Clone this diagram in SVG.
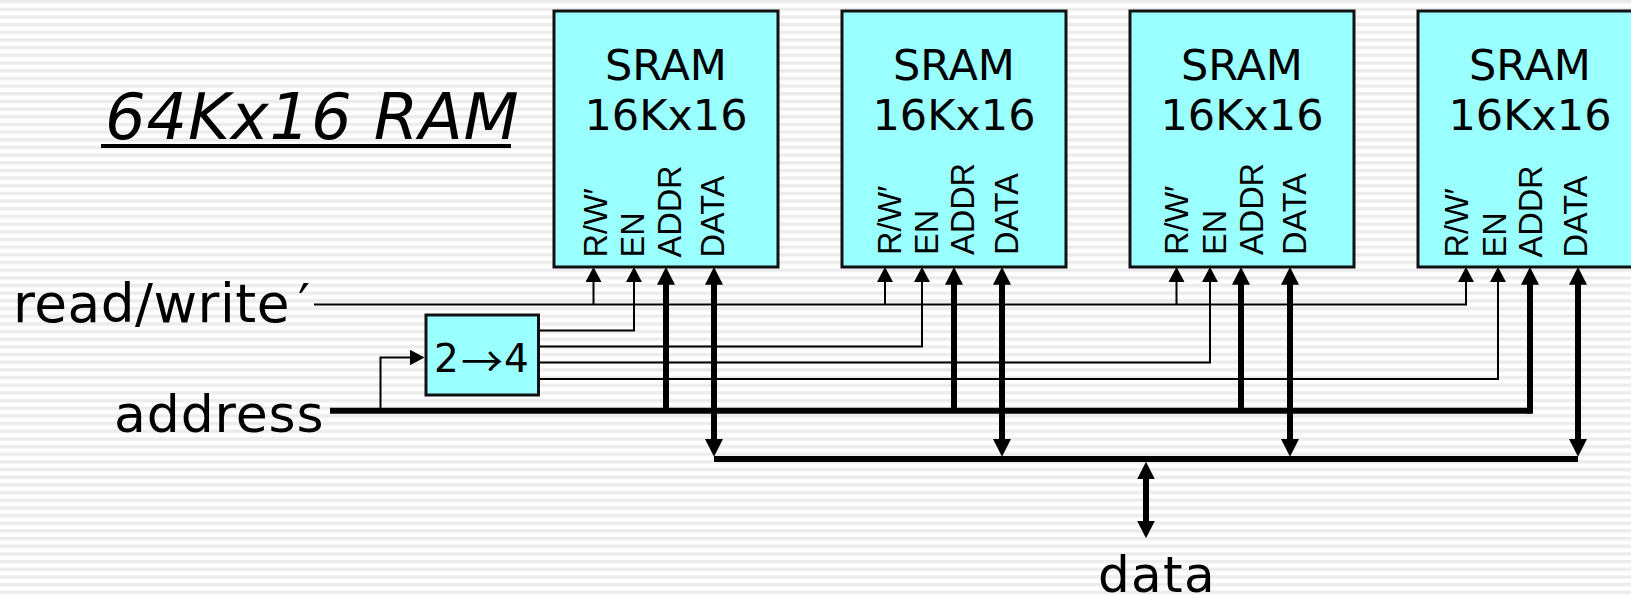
<svg xmlns="http://www.w3.org/2000/svg" width="1631" height="595" viewBox="0 0 1631 595">
<style>
text{font-family:"DejaVu Sans","Liberation Sans",sans-serif;fill:#000}
.n{fill:#99ffff;stroke:#111;stroke-width:3}
.t{font-size:43px;text-anchor:middle}
text.p{font-family:"Liberation Sans",sans-serif;font-size:32.500px}
.l{fill:none;stroke:#000;stroke-width:2}
.b{fill:none;stroke:#000;stroke-width:6}
</style>
<defs>
<pattern id="bg" width="8" height="7.670" patternUnits="userSpaceOnUse"><rect width="8" height="7.670" fill="#fff"/><rect y="0" width="8" height="3.400" fill="#ececec"/></pattern>
<marker id="a" markerUnits="userSpaceOnUse" markerWidth="16" markerHeight="16" refX="0.500" refY="8" orient="auto-start-reverse"><path d="M0 0L15 8L0 16z"/></marker>
<marker id="A" markerUnits="userSpaceOnUse" markerWidth="18" markerHeight="18" refX="1" refY="9" orient="auto-start-reverse"><path d="M0 0L17.700 9L0 18z"/></marker>
</defs>
<rect width="1631" height="595" fill="url(#bg)"/>
<g id="title"><text x="105" y="138.500" font-size="64" font-style="italic" letter-spacing="0.800">64Kx16 RAM</text><rect x="101" y="144" width="410" height="4"/></g>
<g id="connectors">
<path class="l" d="M314 304.500H1466V281.500" marker-end="url(#a)"/>
<path class="l" d="M593.500 304.500V281.500" marker-end="url(#a)"/>
<path class="l" d="M885 304.500V281.500" marker-end="url(#a)"/>
<path class="l" d="M1176.500 304.500V281.500" marker-end="url(#a)"/>
<path class="l" d="M539 330.500H634V281.500" marker-end="url(#a)"/>
<path class="l" d="M539 346.500H922V281.500" marker-end="url(#a)"/>
<path class="l" d="M539 362.500H1210V281.500" marker-end="url(#a)"/>
<path class="l" d="M539 379H1498V281.500" marker-end="url(#a)"/>
<path class="l" d="M380.500 409V357.500H410" marker-end="url(#a)"/>
<path class="b" d="M330 410.700H1530"/>
<path class="b" d="M1530 413.700V283.700" marker-end="url(#A)"/>
<path class="b" d="M666 410.700V283.700" marker-end="url(#A)"/>
<path class="b" d="M954 410.700V283.700" marker-end="url(#A)"/>
<path class="b" d="M1241 410.700V283.700" marker-end="url(#A)"/>
<path class="b" d="M714 459H1578"/>
<path class="b" d="M714 440V283.700" marker-start="url(#A)" marker-end="url(#A)"/>
<path class="b" d="M1002 440V283.700" marker-start="url(#A)" marker-end="url(#A)"/>
<path class="b" d="M1290 440V283.700" marker-start="url(#A)" marker-end="url(#A)"/>
<path class="b" d="M1578 440V283.700" marker-start="url(#A)" marker-end="url(#A)"/>
<path class="b" d="M1146 478.400V521.600" marker-start="url(#A)" marker-end="url(#A)"/>
</g>
<g id="sram1"><rect class="n" x="554" y="11" width="224" height="256"/><text class="t" x="666" y="79.500">SRAM</text><text class="t" x="666" y="130">16Kx16</text><text class="p" transform="translate(606.700,257.500) rotate(-90)">R/W′</text><text class="p" transform="translate(644,257.500) rotate(-90)">EN</text><text class="p" transform="translate(680.700,257.500) rotate(-90)">ADDR</text><text class="p" transform="translate(724,257.500) rotate(-90)">DATA</text></g>
<g id="sram2"><rect class="n" x="842" y="11" width="224" height="256"/><text class="t" x="954" y="79.500">SRAM</text><text class="t" x="954" y="130">16Kx16</text><text class="p" transform="translate(900.700,255) rotate(-90)">R/W′</text><text class="p" transform="translate(938,255) rotate(-90)">EN</text><text class="p" transform="translate(974,255) rotate(-90)">ADDR</text><text class="p" transform="translate(1018,255) rotate(-90)">DATA</text></g>
<g id="sram3"><rect class="n" x="1130" y="11" width="224" height="256"/><text class="t" x="1242" y="79.500">SRAM</text><text class="t" x="1242" y="130">16Kx16</text><text class="p" transform="translate(1188,255) rotate(-90)">R/W′</text><text class="p" transform="translate(1226,255) rotate(-90)">EN</text><text class="p" transform="translate(1262.700,255) rotate(-90)">ADDR</text><text class="p" transform="translate(1306,255) rotate(-90)">DATA</text></g>
<g id="sram4"><rect class="n" x="1418" y="11" width="224" height="256"/><text class="t" x="1530" y="79.500">SRAM</text><text class="t" x="1530" y="130">16Kx16</text><text class="p" transform="translate(1468,257.500) rotate(-90)">R/W′</text><text class="p" transform="translate(1505.700,257.500) rotate(-90)">EN</text><text class="p" transform="translate(1542,257.500) rotate(-90)">ADDR</text><text class="p" transform="translate(1586.700,257.500) rotate(-90)">DATA</text></g>
<g id="decoder"><rect class="n" x="426" y="315" width="112.500" height="80"/><text y="371.700" font-size="39"><tspan x="434">2</tspan><tspan x="461" y="377" font-size="42" style="font-family:'Noto Sans CJK JP',sans-serif">→</tspan><tspan x="504" y="371.700">4</tspan></text></g>
<g id="labels"><text x="13" y="322" font-size="53.300" letter-spacing="0.500">read/write<tspan x="298">′</tspan></text><text x="114" y="432" font-size="52" letter-spacing="0.900">address</text><text x="1098" y="591.700" font-size="50" letter-spacing="1.300">data</text></g>
</svg>
